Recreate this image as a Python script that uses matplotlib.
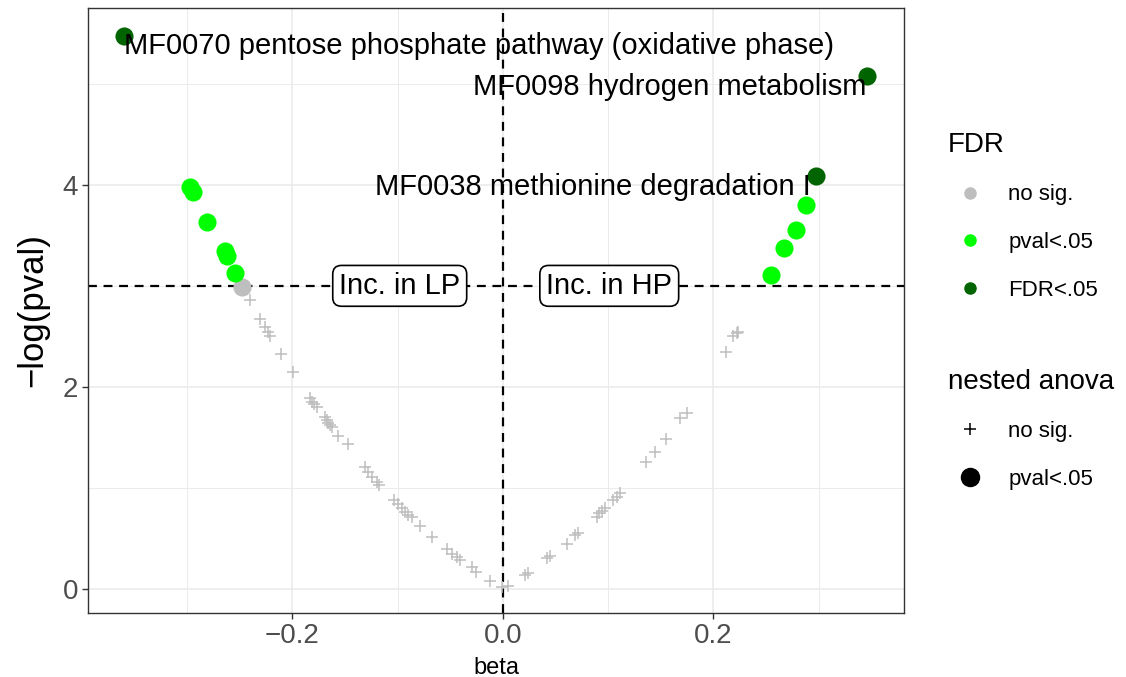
import numpy as np
import matplotlib
matplotlib.use("Agg")
import matplotlib.pyplot as plt
from matplotlib.lines import Line2D

plt.rcParams['font.family'] = ['Liberation Sans', 'DejaVu Sans']

# non-significant (nested anova) points, plotted as "+"
plus_beta = [-0.240, -0.231, -0.226, -0.223, -0.221, -0.211, -0.199, -0.183, -0.181, -0.179,
             -0.177, -0.169, -0.167, -0.166, -0.164, -0.162, -0.157, -0.147, -0.131, -0.128,
             -0.124, -0.120, -0.118, -0.103, -0.100, -0.096, -0.093, -0.090, -0.086, -0.079,
             -0.067, -0.053, -0.048, -0.044, -0.041, -0.029, -0.026, -0.012, -0.001,
             0.005, 0.021, 0.024, 0.042, 0.045, 0.061, 0.068, 0.071, 0.089, 0.091,
             0.094, 0.097, 0.105, 0.108, 0.111, 0.136, 0.144, 0.155, 0.168, 0.175,
             0.212, 0.219, 0.222, 0.223]
plus_logp = [2.86, 2.67, 2.59, 2.54, 2.50, 2.33, 2.15, 1.89, 1.85, 1.83,
             1.80, 1.70, 1.67, 1.64, 1.62, 1.60, 1.51, 1.43, 1.21, 1.16,
             1.11, 1.06, 1.03, 0.88, 0.84, 0.80, 0.76, 0.73, 0.71, 0.62,
             0.51, 0.40, 0.35, 0.32, 0.29, 0.22, 0.17, 0.08, 0.02,
             0.03, 0.14, 0.16, 0.31, 0.33, 0.45, 0.53, 0.55, 0.71, 0.75,
             0.77, 0.80, 0.88, 0.91, 0.95, 1.26, 1.36, 1.48, 1.69, 1.74,
             2.35, 2.50, 2.53, 2.54]

# nested anova pval<.05 points, by FDR class
grey_beta = [-0.248]
grey_logp = [2.99]
green_beta = [-0.297, -0.294, -0.281, -0.264, -0.262, -0.254, 0.255, 0.267, 0.278, 0.288]
green_logp = [3.98, 3.93, 3.63, 3.34, 3.30, 3.13, 3.11, 3.37, 3.55, 3.80]
dark_beta = [-0.360, 0.346, 0.297]
dark_logp = [5.475, 5.08, 4.09]

labels = ["MF0070 pentose phosphate pathway (oxidative phase)",
          "MF0098 hydrogen metabolism",
          "MF0038 methionine degradation I"]
label_x = [-0.360, 0.345, 0.292]
label_y = [5.37, 4.97, 3.98]
label_ha = ['left', 'right', 'right']

fig = plt.figure(figsize=(11.26, 6.77), dpi=100)
ax = fig.add_axes([0.0782, 0.0945, 0.7247, 0.8937])

ax.set_xlim(-0.394, 0.381)
ax.set_ylim(-0.238, 5.75)
ax.set_xticks([-0.2, 0.0, 0.2])
ax.set_xticklabels(['\u22120.2', '0.0', '0.2'])
ax.set_yticks([0, 2, 4])
ax.set_xticks([-0.3, -0.1, 0.1, 0.3], minor=True)
ax.set_yticks([1, 3, 5], minor=True)
ax.grid(True, which='major', color='#EBEBEB', lw=1.2, zorder=0)
ax.grid(True, which='minor', color='#EBEBEB', lw=0.7, zorder=0)
ax.set_axisbelow(True)
ax.tick_params(which='minor', length=0)
ax.tick_params(which='major', labelsize=20, labelcolor='#4D4D4D', color='#333333',
               length=4, width=1, pad=3)
for s in ax.spines.values():
    s.set_color('#333333')
    s.set_linewidth(1.0)

ax.axhline(3, color='black', ls=(0, (4, 3)), lw=1.6, zorder=1)
ax.axvline(0, color='black', ls=(0, (4, 3)), lw=1.6, zorder=1)

ax.scatter(plus_beta, plus_logp, marker='+', s=70, color='#BEBEBE', lw=1.1, zorder=2)
ax.scatter(grey_beta, grey_logp, marker='o', s=170, color='#BEBEBE', lw=0, zorder=3)
ax.scatter(green_beta, green_logp, marker='o', s=170, color='#00FF00', lw=0, zorder=3)
ax.scatter(dark_beta, dark_logp, marker='o', s=170, color='#006400', lw=0, zorder=3)

for t, x, y, ha in zip(labels, label_x, label_y, label_ha):
    ax.text(x, y, t, ha=ha, va='center', fontsize=21, color='black', zorder=4)

box = dict(boxstyle='round,pad=0.22,rounding_size=0.3', fc='white', ec='black', lw=1.2)
ax.text(-0.098, 3, 'Inc. in LP', ha='center', va='center', fontsize=21, bbox=box, zorder=4)
ax.text(0.101, 3, 'Inc. in HP', ha='center', va='center', fontsize=21, bbox=box, zorder=4)

ax.set_xlabel('beta', fontsize=17, labelpad=6)
ax.set_ylabel('\u2212log(pval)', fontsize=25, labelpad=10)

fdr_handles = [Line2D([], [], ls='', marker='o', ms=8, color=c, mec=c)
               for c in ['#BEBEBE', '#00FF00', '#006400']]
leg1 = fig.legend(fdr_handles, ['no sig.', 'pval<.05', 'FDR<.05'], title='FDR',
                  loc='upper left', bbox_to_anchor=(0.832, 0.822), frameon=False,
                  fontsize=16, title_fontsize=20, labelspacing=1.2, handletextpad=0.72,
                  handlelength=2.0, borderpad=0, alignment='left')
nest_handles = [Line2D([], [], ls='', marker='+', ms=9, mew=1.1, color='black'),
                Line2D([], [], ls='', marker='o', ms=13, color='black')]
leg2 = fig.legend(nest_handles, ['no sig.', 'pval<.05'], title='nested anova',
                  loc='upper left', bbox_to_anchor=(0.832, 0.472), frameon=False,
                  fontsize=16, title_fontsize=20, labelspacing=1.2, handletextpad=0.72,
                  handlelength=2.0, borderpad=0, alignment='left')

fig.savefig('out.png', dpi=100)
